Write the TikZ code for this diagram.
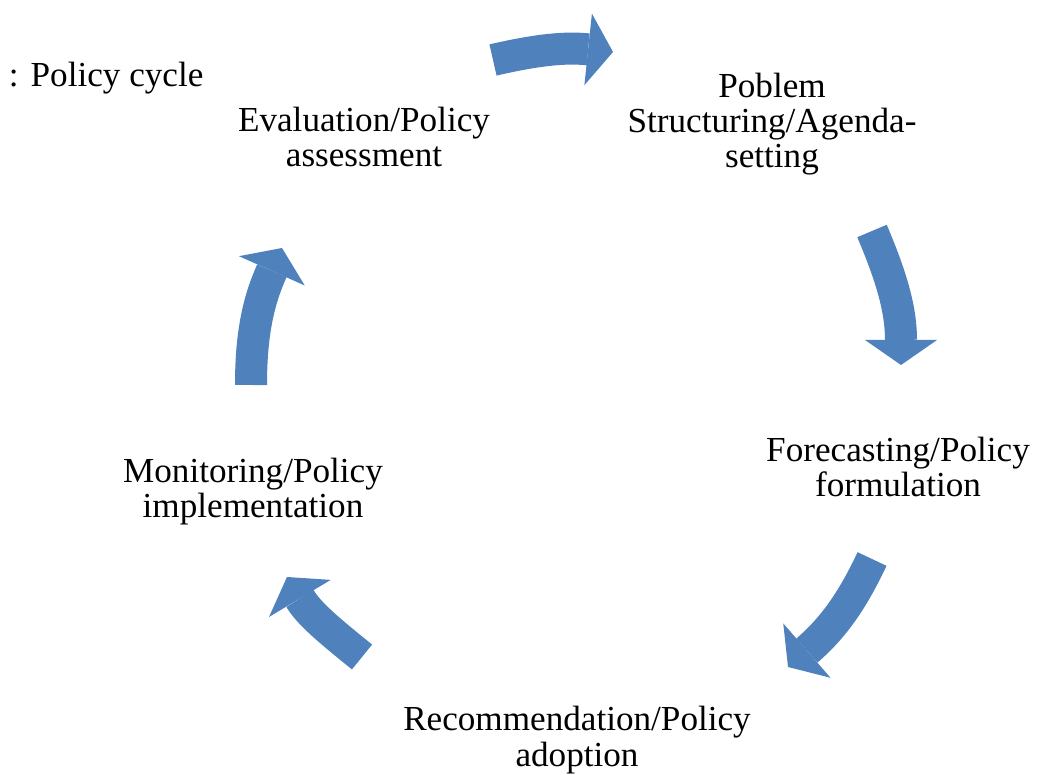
\documentclass[tikz,border=0pt]{standalone}
\usepackage{fontspec}
\setmainfont{Liberation Serif}
\usetikzlibrary{arrows.meta}
\definecolor{cycblue}{RGB}{79,129,189}

\begin{document}
\begin{tikzpicture}[cyc/.style={line width=3.2mm,draw=cycblue,-{Triangle[length=2.5mm,width=7.2mm,line width=0pt]}},
  lbl/.style={align=center,inner sep=0pt,font=\fontsize{10}{10}\selectfont}]
\useasboundingbox (0,0) rectangle (10.40,-7.75);
\node[anchor=base west,inner sep=0pt,font=\fontsize{10}{10}\selectfont] (title) at (0.30,-0.87) {\llap{:\hspace{1.2mm}}Policy cycle};
\node[lbl,anchor=base] (eval) at (3.64,-1.67) {Evaluation/Policy\\assessment};
\node[lbl,anchor=base] (prob) at (7.72,-1.68) {Poblem\\Structuring/Agenda-\\setting};
\node[lbl,anchor=base] (fore) at (8.98,-4.97) {Forecasting/Policy\\formulation};
\node[lbl,anchor=base] (rec) at (5.77,-7.66) {Recommendation/Policy\\adoption};
\node[lbl,anchor=base] (mon) at (2.53,-5.18) {Monitoring/Policy\\implementation};
\coordinate (a1s) at (4.93,-0.60); \coordinate (a1e) at (6.13,-0.52);
\coordinate (a2s) at (8.72,-2.31); \coordinate (a2e) at (9.01,-3.65);
\coordinate (a3s) at (8.72,-5.59); \coordinate (a3e) at (7.88,-6.67);
\coordinate (a4s) at (3.62,-6.57); \coordinate (a4e) at (2.87,-5.77);
\coordinate (a5s) at (2.51,-3.85); \coordinate (a5e) at (2.82,-2.48);
\draw[cyc] (a1s) to[out=13,in=174] (a1e);
\draw[cyc] (a2s) to[out=-67,in=90] (a2e);
\draw[cyc] (a3s) to[out=-115,in=41] (a3e);
\draw[cyc] (a4s) to[out=141,in=-59] (a4e);
\draw[cyc] (a5s) to[out=90,in=246] (a5e);
\end{tikzpicture}
\end{document}
